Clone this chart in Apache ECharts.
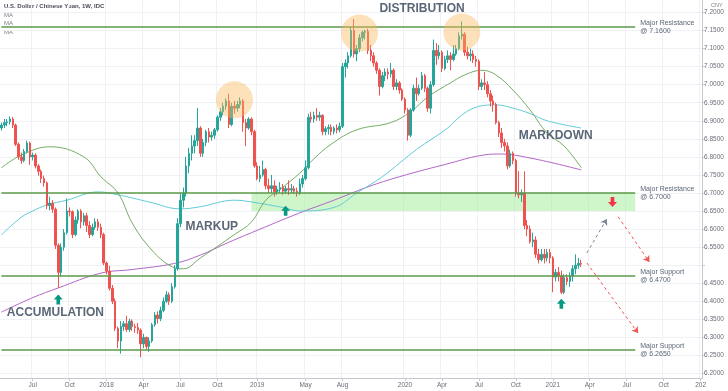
<!DOCTYPE html>
<html><head><meta charset="utf-8">
<script src="https://cdn.jsdelivr.net/npm/echarts@6/dist/echarts.min.js"></script>
<style>html,body{margin:0;padding:0;background:#fff}#c{width:728px;height:391px}</style>
</head><body><div id="c"></div>
<script>
// ---- data ----
const weekStart = '2017-04-17';
const weekCount = 247; // axis runs to early 2022
// weekly candles [open, close, low, high]
const candles = [
[6.880,6.888,6.873,6.895],[6.888,6.895,6.880,6.905],[6.895,6.897,6.885,6.905],[6.897,6.905,6.890,6.912],
[6.905,6.888,6.880,6.910],[6.888,6.835,6.830,6.892],[6.835,6.800,6.792,6.840],[6.800,6.790,6.781,6.812],
[6.790,6.815,6.785,6.822],[6.815,6.838,6.810,6.845],[6.838,6.800,6.778,6.842],[6.800,6.805,6.790,6.812],
[6.805,6.775,6.768,6.810],[6.775,6.760,6.748,6.780],[6.760,6.740,6.728,6.765],[6.740,6.728,6.718,6.748],
[6.728,6.665,6.655,6.732],[6.665,6.672,6.652,6.690],[6.672,6.655,6.645,6.680],[6.655,6.555,6.545,6.660],
[6.555,6.480,6.437,6.560],[6.480,6.550,6.470,6.560],[6.550,6.590,6.540,6.600],[6.590,6.650,6.585,6.685],
[6.650,6.648,6.635,6.660],[6.648,6.585,6.575,6.652],[6.585,6.625,6.580,6.635],[6.625,6.650,6.615,6.655],
[6.650,6.620,6.602,6.655],[6.620,6.637,6.610,6.645],[6.637,6.610,6.592,6.645],[6.610,6.585,6.575,6.622],
[6.585,6.605,6.580,6.615],[6.605,6.620,6.598,6.630],[6.620,6.605,6.595,6.628],[6.605,6.585,6.575,6.615],
[6.585,6.506,6.500,6.590],[6.506,6.484,6.475,6.510],[6.484,6.436,6.430,6.498],[6.436,6.400,6.392,6.445],
[6.400,6.325,6.318,6.408],[6.325,6.290,6.270,6.330],[6.290,6.330,6.255,6.345],[6.330,6.338,6.318,6.345],
[6.338,6.322,6.315,6.360],[6.322,6.345,6.315,6.352],[6.345,6.330,6.318,6.350],[6.330,6.327,6.313,6.338],
[6.327,6.320,6.310,6.340],[6.320,6.282,6.245,6.325],[6.282,6.300,6.270,6.310],[6.300,6.275,6.267,6.302],
[6.275,6.290,6.260,6.300],[6.290,6.335,6.285,6.340],[6.335,6.362,6.330,6.370],[6.362,6.352,6.338,6.372],
[6.352,6.375,6.345,6.385],[6.375,6.400,6.370,6.410],[6.400,6.418,6.395,6.428],[6.418,6.400,6.390,6.425],
[6.400,6.440,6.395,6.450],[6.440,6.490,6.435,6.500],[6.490,6.615,6.485,6.630],[6.615,6.680,6.605,6.700],
[6.680,6.700,6.660,6.715],[6.700,6.775,6.690,6.800],[6.775,6.810,6.755,6.825],[6.810,6.830,6.790,6.860],
[6.830,6.845,6.810,6.860],[6.845,6.880,6.830,6.935],[6.880,6.810,6.800,6.885],[6.810,6.840,6.800,6.850],
[6.840,6.870,6.830,6.875],[6.870,6.855,6.840,6.880],[6.855,6.860,6.845,6.870],[6.860,6.875,6.850,6.880],
[6.875,6.910,6.870,6.915],[6.910,6.925,6.900,6.935],[6.925,6.940,6.915,6.950],[6.940,6.955,6.930,6.962],
[6.955,6.890,6.880,6.975],[6.890,6.940,6.885,6.950],[6.940,6.935,6.920,6.955],[6.935,6.945,6.925,6.955],
[6.945,6.955,6.935,6.965],[6.955,6.895,6.870,6.960],[6.895,6.880,6.830,6.905],[6.880,6.905,6.875,6.910],
[6.905,6.870,6.860,6.910],[6.870,6.775,6.770,6.875],[6.775,6.740,6.735,6.785],[6.740,6.750,6.730,6.775],
[6.750,6.765,6.745,6.790],[6.765,6.720,6.710,6.770],[6.720,6.712,6.700,6.740],[6.712,6.720,6.700,6.750],
[6.720,6.703,6.690,6.735],[6.703,6.710,6.695,6.720],[6.710,6.715,6.700,6.730],[6.715,6.705,6.695,6.725],
[6.705,6.712,6.698,6.720],[6.712,6.708,6.695,6.735],[6.708,6.712,6.700,6.725],[6.712,6.705,6.698,6.720],
[6.705,6.700,6.690,6.715],[6.700,6.725,6.695,6.740],[6.725,6.740,6.715,6.750],[6.740,6.770,6.735,6.790],
[6.770,6.910,6.765,6.920],[6.910,6.905,6.895,6.925],[6.905,6.915,6.895,6.925],[6.915,6.910,6.900,6.935],
[6.910,6.915,6.900,6.925],[6.915,6.870,6.860,6.918],[6.870,6.878,6.860,6.885],[6.878,6.882,6.862,6.890],
[6.882,6.870,6.860,6.890],[6.870,6.880,6.862,6.885],[6.880,6.875,6.865,6.890],[6.875,6.885,6.868,6.895],
[6.885,7.050,6.880,7.060],[7.050,7.060,7.020,7.070],[7.060,7.080,7.045,7.090],[7.080,7.150,7.075,7.160],
[7.150,7.085,7.075,7.182],[7.085,7.100,7.065,7.110],[7.100,7.130,7.090,7.140],[7.130,7.145,7.120,7.150],
[7.145,7.148,7.125,7.152],[7.148,7.095,7.085,7.155],[7.095,7.080,7.065,7.110],[7.080,7.060,7.050,7.090],
[7.060,7.040,7.030,7.065],[7.040,6.995,6.970,7.045],[6.995,7.025,6.990,7.035],[7.025,7.035,7.010,7.045],
[7.035,7.030,7.015,7.045],[7.030,7.040,7.020,7.060],[7.040,6.995,6.985,7.045],[6.995,7.005,6.985,7.015],
[7.005,6.985,6.975,7.010],[6.985,6.960,6.955,6.990],[6.960,6.930,6.920,6.965],[6.930,6.860,6.845,6.935],
[6.860,6.930,6.855,6.935],[6.930,6.990,6.925,7.000],[6.990,6.975,6.955,7.020],[6.975,6.990,6.970,7.000],
[6.990,7.025,6.985,7.035],[7.025,6.990,6.980,7.030],[6.990,6.935,6.925,6.995],[6.935,7.000,6.920,7.010],
[7.000,7.095,6.995,7.125],[7.095,7.080,7.055,7.115],[7.080,7.090,7.070,7.110],[7.090,7.045,7.035,7.095],
[7.045,7.070,7.040,7.080],[7.070,7.080,7.060,7.095],[7.080,7.070,7.040,7.090],[7.070,7.085,7.065,7.110],
[7.085,7.100,7.080,7.110],[7.100,7.135,7.095,7.145],[7.135,7.140,7.125,7.175],[7.140,7.090,7.080,7.145],
[7.090,7.080,7.070,7.105],[7.080,7.085,7.065,7.100],[7.085,7.070,7.060,7.095],[7.070,7.065,7.050,7.080],
[7.065,6.995,6.985,7.070],[6.995,7.005,6.985,7.015],[7.005,7.000,6.985,7.035],[7.000,6.975,6.965,7.010],
[6.975,6.955,6.940,6.985],[6.955,6.945,6.925,6.970],[6.945,6.895,6.890,6.950],[6.895,6.866,6.855,6.900],
[6.866,6.840,6.825,6.880],[6.840,6.830,6.815,6.850],[6.830,6.775,6.765,6.840],[6.775,6.810,6.770,6.820],
[6.810,6.790,6.780,6.815],[6.790,6.700,6.690,6.795],[6.700,6.695,6.685,6.760],[6.695,6.700,6.675,6.710],
[6.700,6.610,6.600,6.760],[6.610,6.600,6.580,6.625],[6.600,6.565,6.560,6.610],[6.565,6.570,6.550,6.590],
[6.570,6.530,6.520,6.580],[6.530,6.515,6.505,6.545],[6.515,6.530,6.510,6.545],[6.530,6.520,6.505,6.545],
[6.520,6.535,6.510,6.545],[6.535,6.520,6.505,6.545],[6.520,6.467,6.425,6.525],[6.467,6.480,6.455,6.490],
[6.480,6.470,6.455,6.495],[6.470,6.425,6.420,6.485],[6.425,6.465,6.420,6.475],[6.465,6.455,6.445,6.475],
[6.455,6.470,6.440,6.480],[6.470,6.490,6.455,6.500],[6.490,6.500,6.475,6.530],[6.500,6.505,6.490,6.520],
[6.505,6.503,6.495,6.515]
];
// moving averages: [week index, value]
const maGreen = [[0,6.77],[7,6.805],[17,6.828],[29,6.80],[35,6.745],[41,6.70],[46,6.617],[52,6.55],[59,6.50],[64,6.49],[70,6.52],[82,6.585],[88,6.62],[93,6.68],[98,6.71],[105,6.755],[110,6.795],[116,6.835],[125,6.875],[137,6.895],[144,6.925],[150,6.966],[158,7.005],[163,7.027],[169,7.04],[174,7.027],[180,6.985],[186,6.93],[192,6.866],[198,6.83],[204,6.77]];
const maCyan = [[0,6.584],[7,6.633],[11,6.65],[16,6.667],[23,6.68],[34,6.703],[41,6.695],[52,6.675],[63,6.656],[70,6.662],[82,6.68],[88,6.675],[99,6.66],[105,6.65],[117,6.66],[125,6.70],[134,6.745],[146,6.82],[157,6.88],[162,6.916],[168,6.94],[174,6.944],[180,6.935],[186,6.92],[192,6.90],[204,6.88]];
const maPurple = [[0,6.37],[11,6.41],[20,6.437],[35,6.478],[46,6.488],[61,6.505],[70,6.528],[79,6.56],[88,6.59],[105,6.645],[117,6.68],[129,6.717],[140,6.745],[158,6.783],[168,6.803],[175,6.808],[186,6.797],[204,6.764]];
// levels
const levelValues = [7.16, 6.70, 6.47, 6.265];
const levelNames = ['Major Resistance', 'Major Resistance', 'Major Support', 'Major Support'];
const zoneTop = 6.70, zoneBottom = 6.65;
const lastPrice = 6.503;
// axis labels
const xTickWeeks = [11,24,37,50,63,76,90,107,120,142,155,168,181,194,207,220,233,246];
const xTickText = ['Jul','Oct','2018','Apr','Jul','Oct','2019','May','Aug','2020','Apr','Jul','Oct','2021','Apr','Jul','Oct','202'];
const yTicks = [6.20,6.25,6.30,6.35,6.40,6.45,6.50,6.55,6.60,6.65,6.70,6.75,6.80,6.85,6.90,6.95,7.00,7.05,7.10,7.15,7.20];

// ---- build ----
const weeks = [];
{
  const d0 = new Date(weekStart + 'T00:00:00Z');
  for (let i = 0; i < weekCount; i++) {
    const d = new Date(d0.getTime() + i * 7 * 86400000);
    weeks.push(d.toISOString().slice(0, 10));
  }
}
const tickMap = {};
xTickWeeks.forEach((w, i) => { tickMap[w] = xTickText[i]; });
const isTick = (idx) => tickMap[idx] !== undefined;
const maData = (arr) => arr.map(([i, v]) => [weeks[i], v]);

const SLATE = '#5b6677';
const LEVEL = '#5c9848';
const UP = '#26a69a', DOWN = '#ef5350';
const TEAL = '#089981', RED = '#f23645';
const upArrow = 'path://M5,0 L10,5 L7,5 L7,10 L3,10 L3,5 L0,5 Z';
const downArrow = 'path://M3,0 L7,0 L7,5 L10,5 L5,10 L0,5 L3,5 Z';
const phaseFont = "'Liberation Sans',Arial,sans-serif";

function phase(text, wi, v) {
  return { coord: [weeks[wi], v], symbol: 'circle', symbolSize: 1,
    itemStyle: { color: 'rgba(0,0,0,0)' },
    label: { show: true, position: 'inside', formatter: text, color: SLATE,
      fontFamily: phaseFont, fontWeight: 'bold', fontSize: 12 } };
}
function halo(wi, v) {
  return { coord: [weeks[wi], v], symbol: 'circle', symbolSize: 37,
    itemStyle: { color: 'rgba(249,183,90,0.42)' }, label: { show: false } };
}
function arrow(wi, v, up) {
  return { coord: [weeks[wi], v], symbol: up ? upArrow : downArrow, symbolSize: [9, 10],
    itemStyle: { color: up ? TEAL : RED }, label: { show: false } };
}
function dashed(w1, v1, w2, v2, color) {
  return [{ coord: [weeks[w1], v1], lineStyle: { color: color, type: [3, 3], width: 1 } },
          { coord: [weeks[w2], v2] }];
}

const levelLines = levelValues.map((v, i) => [
  { coord: [weeks[0], v],
    label: { show: true, position: 'end', distance: 5, formatter: levelNames[i] + '\n@ ' + v.toFixed(4),
      color: SLATE, fontSize: 7, lineHeight: 8, fontFamily: 'Liberation Sans, Arial, sans-serif', align: 'left' } },
  { coord: [weeks[223], v] }
]);

const chart = echarts.init(document.getElementById('c'), null, { renderer: 'canvas' });
chart.setOption({
  animation: false,
  backgroundColor: '#ffffff',
  grid: { left: 0, right: 26, top: 0, bottom: 13, containLabel: false },
  xAxis: {
    type: 'category', data: weeks, boundaryGap: true,
    axisLine: { show: true, lineStyle: { color: '#c5c8cf', width: 1 } },
    axisTick: { show: true, length: 3, alignWithLabel: true, interval: (i) => isTick(i), lineStyle: { color: '#c5c8cf' } },
    axisLabel: { show: true, interval: (i) => isTick(i), formatter: (val, i) => tickMap[i] || '',
      fontSize: 6.5, color: '#6b6e79', margin: 4, fontFamily: 'Liberation Sans, Arial, sans-serif' },
    splitLine: { show: true, interval: (i) => isTick(i), lineStyle: { color: '#eff1f5', width: 1 } }
  },
  yAxis: {
    type: 'value', position: 'right', min: 6.1875, max: 7.2346, scale: true,
    axisLine: { show: true, lineStyle: { color: '#c5c8cf', width: 1 } },
    axisTick: { show: true, length: 3, customValues: yTicks, lineStyle: { color: '#c5c8cf' } },
    axisLabel: { show: true, customValues: yTicks.filter(v => Math.abs(v - 6.5) > 1e-9),
      formatter: (v) => v.toFixed(4), fontSize: 6.5, color: '#6b6e79', margin: 2,
      fontFamily: 'Liberation Sans, Arial, sans-serif' },
    splitLine: { show: true, lineStyle: { color: '#eff1f5', width: 1 } }
  },
  graphic: [
    { type: 'text', left: 4, top: 3, style: { text: 'U.S. Dollar / Chinese Yuan, 1W, IDC', fill: '#4a4d57',
      font: 'bold 6px "Liberation Sans", Arial, sans-serif' } },
    { type: 'text', left: 4, top: 12, style: { text: 'MA', fill: '#7b7e88', font: '6px "Liberation Sans", Arial, sans-serif' } },
    { type: 'text', left: 4, top: 20, style: { text: 'MA', fill: '#7b7e88', font: '6px "Liberation Sans", Arial, sans-serif' } },
    { type: 'text', left: 4, top: 29, style: { text: 'MA', fill: '#7b7e88', font: '6px "Liberation Sans", Arial, sans-serif' } },
    { type: 'text', left: 711, top: 2, style: { text: 'CNY', fill: '#7b7e88', font: '5.5px "Liberation Sans", Arial, sans-serif' } }
  ],
  series: [
    {
      name: 'MA purple', type: 'line', data: maData(maPurple), smooth: 0.4, showSymbol: false, z: 2,
      lineStyle: { color: '#b266c8', width: 1 }, silent: true
    },
    {
      name: 'MA cyan', type: 'line', data: maData(maCyan), smooth: 0.4, showSymbol: false, z: 2,
      lineStyle: { color: '#62cbd8', width: 1 }, silent: true
    },
    {
      name: 'MA green', type: 'line', data: maData(maGreen), smooth: 0.4, showSymbol: false, z: 2,
      lineStyle: { color: '#74ad62', width: 1 }, silent: true,
      markLine: {
        silent: true, symbol: ['none', 'arrow'], symbolSize: 6, label: { show: false },
        data: [
          dashed(206, 6.534, 213, 6.628, '#7d8591'),
          dashed(217, 6.634, 228, 6.509, '#ef5350'),
          dashed(206, 6.506, 224, 6.312, '#ef5350')
        ]
      }
    },
    {
      name: 'USDCNY', type: 'candlestick', data: candles, barWidth: 2, z: 3,
      itemStyle: { color: UP, color0: DOWN, borderColor: UP, borderColor0: DOWN, borderWidth: 1 },
      markArea: {
        silent: true, itemStyle: { color: 'rgba(160,236,150,0.5)' },
        data: [[{ coord: [weeks[88], zoneTop] }, { coord: [weeks[223], zoneBottom] }]]
      },
      markLine: {
        silent: true, symbol: ['none', 'none'],
        lineStyle: { color: LEVEL, width: 1.5, type: 'solid' },
        data: levelLines.concat([[
          { coord: [weeks[0], lastPrice], lineStyle: { opacity: 0 },
            label: { show: true, position: 'end', distance: 1, formatter: lastPrice.toFixed(4),
              backgroundColor: RED, color: '#ffffff', fontSize: 6.5, padding: [2, 2, 1, 2],
              fontFamily: 'Liberation Sans, Arial, sans-serif' } },
          { coord: [weeks[weekCount - 1], lastPrice] }
        ]])
      },
      markPoint: {
        silent: true,
        data: [
          halo(82, 6.958), halo(126, 7.143), halo(162, 7.146),
          arrow(20, 6.405, true), arrow(100, 6.651, true), arrow(197, 6.393, true), arrow(215, 6.675, false),
          phase('ACCUMULATION', 19, 6.368), phase('MARKUP', 74, 6.606),
          phase('DISTRIBUTION', 148, 7.21), phase('MARKDOWN', 195, 6.858)
        ]
      }
    }
  ]
});
</script>
</body></html>
